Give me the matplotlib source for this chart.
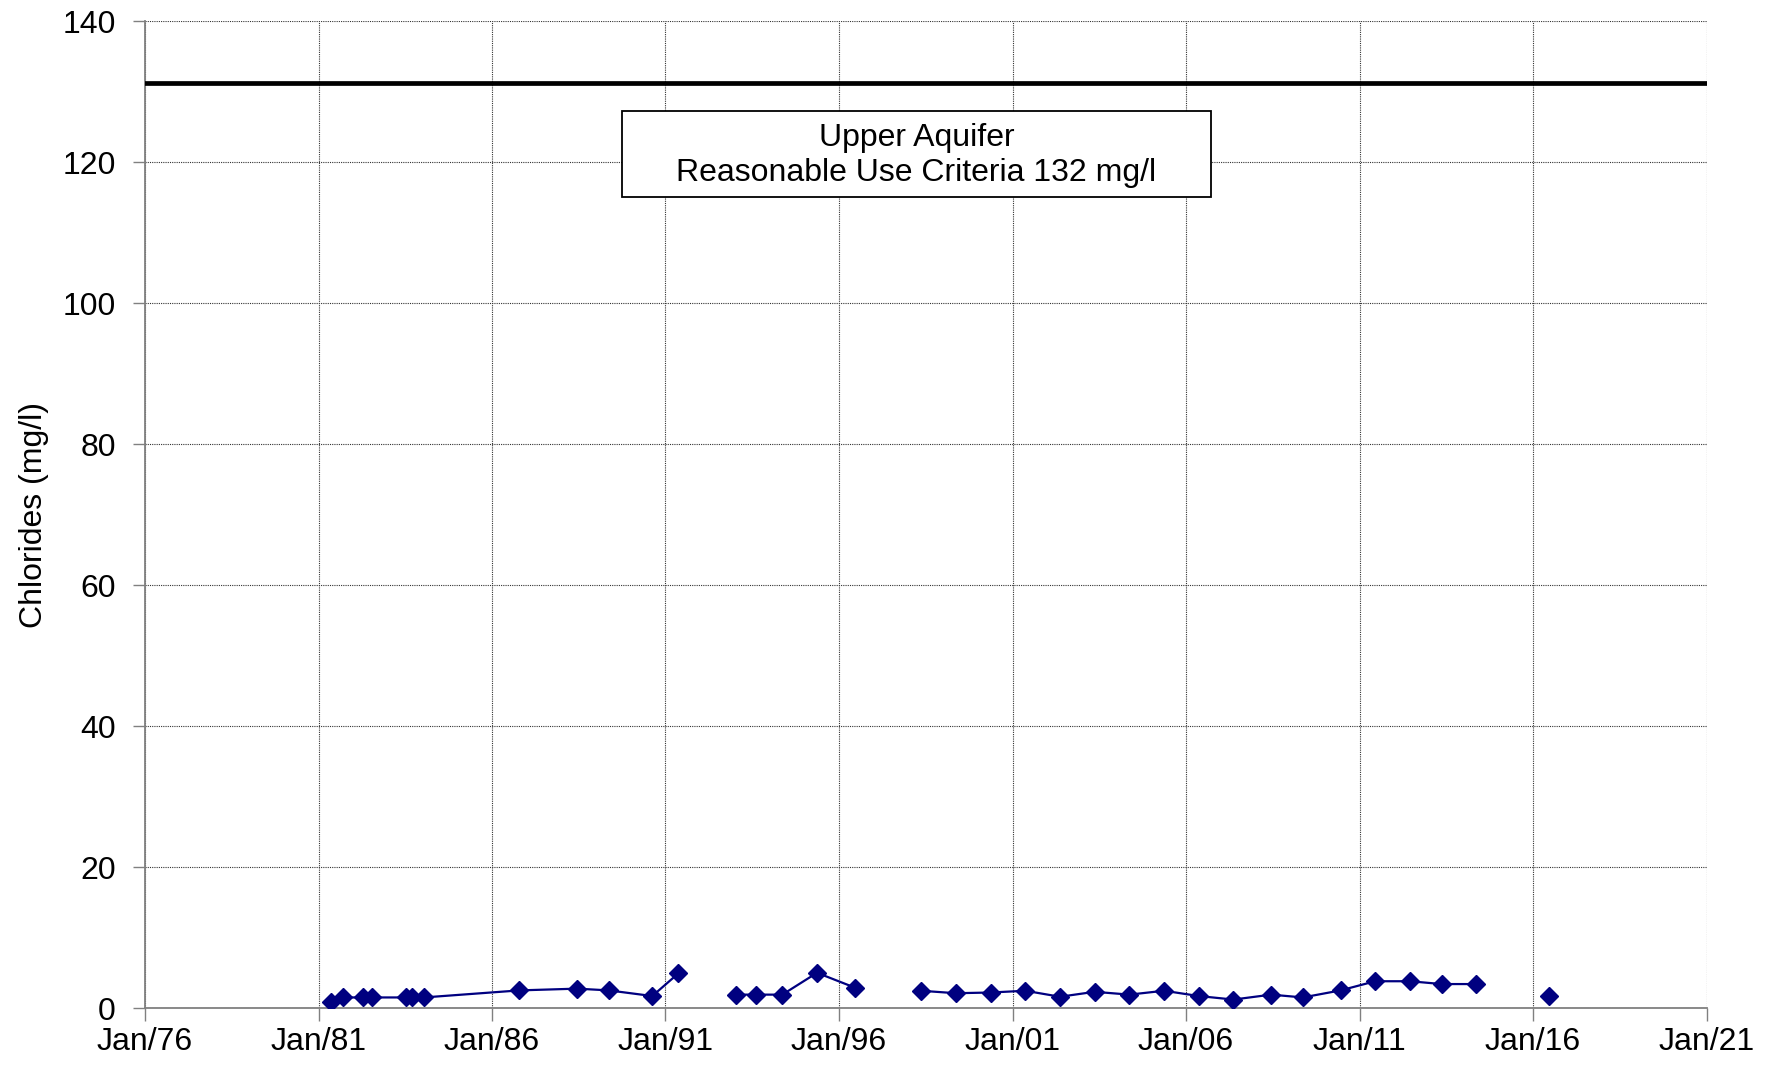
import matplotlib
matplotlib.use("Agg")
import matplotlib.pyplot as plt
import matplotlib.dates as mdates
from matplotlib.patches import Rectangle
from datetime import datetime

plt.rcParams['font.family'] = ['Liberation Sans', 'DejaVu Sans']

# sample dates (year, month), values in mg/l, segment id (line breaks between segments)
dates = [(1981, 5), (1981, 9), (1982, 4), (1982, 7), (1983, 7), (1983, 9), (1984, 1),
         (1986, 10), (1988, 6), (1989, 5), (1990, 8), (1991, 5),
         (1993, 1), (1993, 8), (1994, 5), (1995, 5), (1996, 6),
         (1998, 5), (1999, 5), (2000, 5), (2001, 5), (2002, 5), (2003, 5), (2004, 5),
         (2005, 5), (2006, 5), (2007, 5), (2008, 6), (2009, 5), (2010, 6), (2011, 6),
         (2012, 6), (2013, 5), (2014, 5),
         (2016, 6)]
chlorides = [0.9, 1.5, 1.5, 1.5, 1.5, 1.5, 1.5,
             2.5, 2.75, 2.5, 1.7, 4.9,
             1.9, 1.9, 1.9, 5.0, 2.9,
             2.45, 2.1, 2.2, 2.45, 1.6, 2.3, 1.9,
             2.45, 1.7, 1.2, 1.9, 1.5, 2.5, 3.8,
             3.8, 3.4, 3.4,
             1.7]
segment = [0] * 12 + [1] * 5 + [2] * 17 + [3]

criteria = 131.2
xticks_years = list(range(1976, 2022, 5))
yticks = [0, 20, 40, 60, 80, 100, 120, 140]

fig = plt.figure(figsize=(17.74, 10.65), dpi=100)
ax = fig.add_axes([0.0817, 0.0535, 0.8803, 0.9265])

x = [datetime(y, m, 15) for y, m in dates]
for s in sorted(set(segment)):
    xs = [x[i] for i in range(len(x)) if segment[i] == s]
    ys = [chlorides[i] for i in range(len(x)) if segment[i] == s]
    ax.plot(xs, ys, color='#000080', lw=1.6, marker='D', markersize=9.5, zorder=3)

ax.axhline(criteria, color='black', lw=3.4, zorder=3)

# label box
ax.add_patch(Rectangle((0.3054, 0.8217), 0.3775, 0.0871, transform=ax.transAxes,
                       fc='white', ec='black', lw=1.3, zorder=4))
ax.text(0.494, 0.864, "Upper Aquifer\nReasonable Use Criteria 132 mg/l",
        transform=ax.transAxes, ha='center', va='center', fontsize=23,
        linespacing=1.25, zorder=5)

ax.set_xlim(datetime(1976, 1, 1), datetime(2021, 1, 1))
ax.set_ylim(0, 140)
ax.set_xticks([datetime(y, 1, 1) for y in xticks_years])
ax.xaxis.set_major_formatter(mdates.DateFormatter('Jan/%y'))
ax.set_yticks(yticks)
ax.tick_params(labelsize=23, length=9, width=1, color='#808080')
ax.tick_params(axis='y', pad=12)
ax.tick_params(axis='x', pad=5)
ax.set_ylabel("Chlorides (mg/l)", fontsize=23, labelpad=10)

ax.grid(True, color='#333333', linestyle=(0, (1, 1)), lw=0.8)
for sp in ['top', 'right']:
    ax.spines[sp].set_visible(False)
for sp in ['left', 'bottom']:
    ax.spines[sp].set_color('#808080')
    ax.spines[sp].set_linewidth(1.3)

fig.savefig("out.png", dpi=100)
